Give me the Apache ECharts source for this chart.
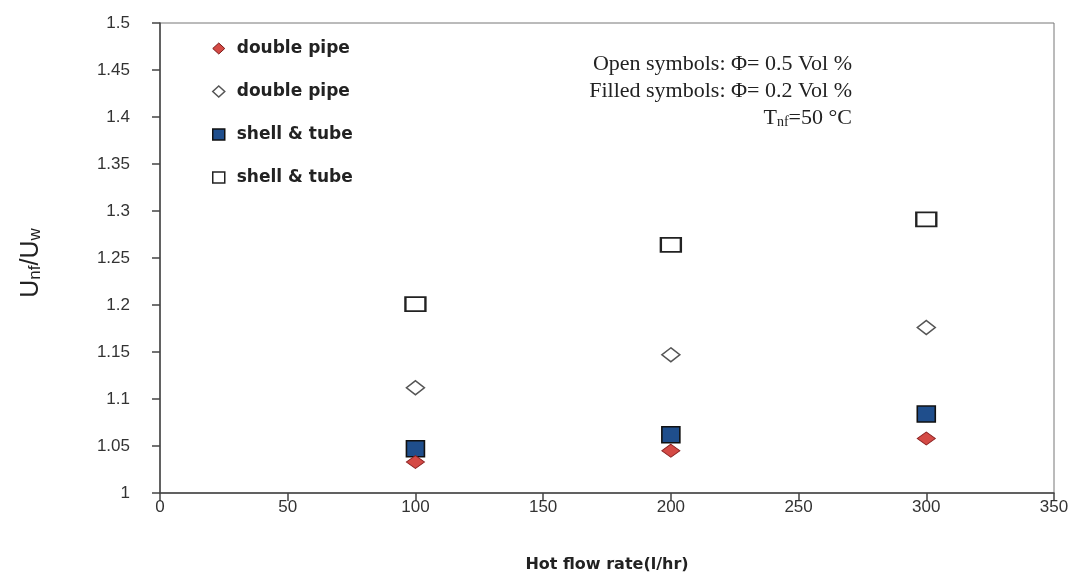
<!DOCTYPE html>
<html>
<head>
<meta charset="utf-8">
<script src="https://cdn.jsdelivr.net/npm/echarts@6/dist/echarts.min.js"></script>
<style>html,body{margin:0;padding:0;background:#fff}#c{width:1084px;height:578px}</style>
</head>
<body>
<div id="c"></div>
<script>
var xValues = [100, 200, 300];
var doublePipe02 = [1.033, 1.045, 1.058];
var doublePipe05 = [1.112, 1.147, 1.176];
var shellTube02 = [1.047, 1.062, 1.084];
var shellTube05 = [1.201, 1.264, 1.291];
var legendLabels = ['double pipe', 'double pipe', 'shell & tube', 'shell & tube'];
var seriesKeys = ['dp02', 'dp05', 'st02', 'st05'];
var xTicks = [0, 50, 100, 150, 200, 250, 300, 350];
var yTicks = [1, 1.05, 1.1, 1.15, 1.2, 1.25, 1.3, 1.35, 1.4, 1.45, 1.5];

function pts(ys) { return xValues.map(function (x, i) { return [x, ys[i]]; }); }

var chart = echarts.init(document.getElementById('c'), null, { renderer: 'canvas' });
var labelMap = {};
seriesKeys.forEach(function (k, i) { labelMap[k] = legendLabels[i]; });

chart.setOption({
  animation: false,
  backgroundColor: '#fff',
  grid: { left: 160, right: 30, top: 23, bottom: 85, show: true, borderColor: '#777', borderWidth: 1 },
  legend: {
    orient: 'vertical', left: 207, top: 35, itemGap: 26, itemWidth: 12, itemHeight: 11,
    formatter: function (n) { return labelMap[n]; },
    textStyle: { fontFamily: 'DejaVu Sans', fontWeight: 'bold', fontSize: 17, color: '#222', padding: [0, 0, 0, 7] },
    data: [
      { name: 'dp02', icon: 'diamond', itemStyle: { color: '#d44a45', borderColor: '#7a1a18', borderWidth: 1 } },
      { name: 'dp05', icon: 'diamond', itemStyle: { color: '#fff', borderColor: '#555', borderWidth: 1.5 } },
      { name: 'st02', icon: 'rect', itemStyle: { color: '#1f4e8c', borderColor: '#111', borderWidth: 1.5 } },
      { name: 'st05', icon: 'rect', itemStyle: { color: '#fff', borderColor: '#222', borderWidth: 1.5 } }
    ]
  },
  xAxis: {
    type: 'value', min: 0, max: 350, interval: 50,
    name: 'Hot flow rate(l/hr)', nameLocation: 'middle', nameGap: 64,
    nameTextStyle: { fontFamily: 'DejaVu Sans', fontWeight: 'bold', fontSize: 16, color: '#222' },
    axisLine: { show: true, lineStyle: { color: '#444', width: 1.5 } },
    axisTick: { show: true, length: 8, lineStyle: { color: '#444', width: 1.5 } },
    axisLabel: { margin: 6, fontFamily: 'Liberation Sans', fontSize: 17, color: '#333',
      formatter: function (v) { return xTicks.indexOf(v) >= 0 ? String(v) : ''; } },
    splitLine: { show: false }
  },
  yAxis: {
    type: 'value', min: 1, max: 1.5, interval: 0.05,
    name: '{a|U}{b|nf}{a|/U}{b|w}', nameLocation: 'middle', nameGap: 116,
    nameTextStyle: { color: '#222', padding: [0, 10, 0, 0], rich: {
      a: { fontFamily: 'Liberation Sans', fontSize: 25, color: '#222' },
      b: { fontFamily: 'Liberation Sans', fontSize: 17, color: '#222', verticalAlign: 'bottom', padding: [7, 0, 0, 0] } } },
    axisLine: { show: true, lineStyle: { color: '#444', width: 1.5 } },
    axisTick: { show: true, length: 8, lineStyle: { color: '#444', width: 1.5 } },
    axisLabel: { margin: 30, fontFamily: 'Liberation Sans', fontSize: 17, color: '#333',
      formatter: function (v) {
        var r = Math.round(v * 100) / 100;
        return yTicks.indexOf(r) >= 0 ? String(r) : '';
      } },
    splitLine: { show: false }
  },
  graphic: [
    { type: 'text', right: 1084 - 852, top: 53, style: { text: 'Open symbols: \u03A6= 0.5 Vol %', font: '22px "Liberation Serif"', fill: '#222', textAlign: 'right' } },
    { type: 'text', right: 1084 - 852, top: 80, style: { text: 'Filled symbols: \u03A6= 0.2 Vol %', font: '22px "Liberation Serif"', fill: '#222', textAlign: 'right' } },
    { type: 'text', right: 1084 - 852, top: 107, style: { text: '{a|T}{b|nf}{a|=50 \u00B0C}', rich: {
      a: { fontFamily: 'Liberation Serif', fontSize: 22, fill: '#222' },
      b: { fontFamily: 'Liberation Serif', fontSize: 14, fill: '#222', verticalAlign: 'bottom', padding: [8, 0, 0, 0] } } } }
  ],
  series: [
    { name: 'st05', type: 'scatter', data: pts(shellTube05), symbol: 'rect', symbolSize: [20, 14],
      itemStyle: { color: '#fff', borderColor: '#222', borderWidth: 2, opacity: 1 } },
    { name: 'dp05', type: 'scatter', data: pts(doublePipe05), symbol: 'diamond', symbolSize: [18, 14],
      itemStyle: { color: '#fff', borderColor: '#555', borderWidth: 1.5, opacity: 1 } },
    { name: 'st02', type: 'scatter', data: pts(shellTube02), symbol: 'rect', symbolSize: [18, 16],
      itemStyle: { color: '#1f4e8c', borderColor: '#111', borderWidth: 1.5, opacity: 1 } },
    { name: 'dp02', type: 'scatter', data: pts(doublePipe02), symbol: 'diamond', symbolSize: [18, 13],
      itemStyle: { color: '#d44a45', borderColor: '#8a2020', borderWidth: 1, opacity: 1 } }
  ]
});
</script>
</body>
</html>
